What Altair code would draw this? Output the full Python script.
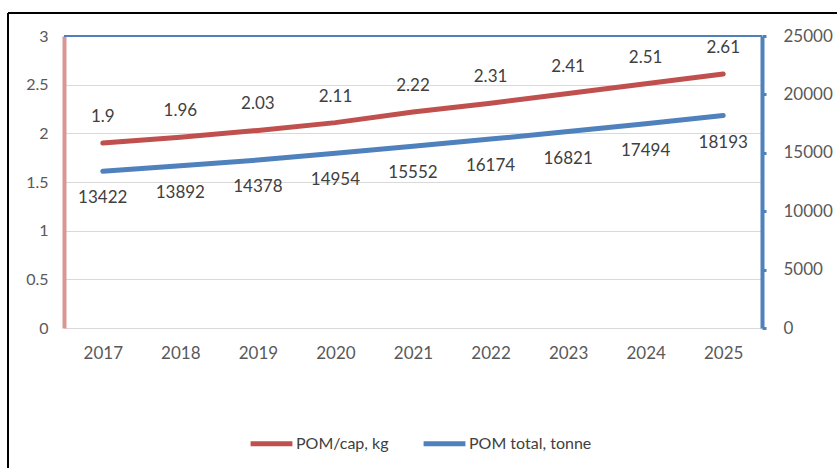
import altair as alt
import pandas as pd

years = ["2017", "2018", "2019", "2020", "2021", "2022", "2023", "2024", "2025"]
pom_per_cap = [1.9, 1.96, 2.03, 2.11, 2.22, 2.31, 2.41, 2.51, 2.61]
pom_total = [13422, 13892, 14378, 14954, 15552, 16174, 16821, 17494, 18193]

series_names = ["POM/cap, kg", "POM total, tonne"]
series_colors = ["#c0504d", "#4f81bd"]

df = pd.DataFrame({"year": years, "cap": pom_per_cap, "total": pom_total})

FONT = "Lato"
FS = 17
W, H = 698, 292

x_enc = alt.X(
    "year:N",
    sort=years,
    scale=alt.Scale(type="point", padding=0.5),
    axis=alt.Axis(
        title=None, domain=False, ticks=False, grid=False, labelAngle=0,
        labelFont=FONT, labelFontSize=FS, labelColor="#595959", labelPadding=17,
    ),
)

color_enc = alt.Color(
    "series:N",
    scale=alt.Scale(domain=series_names, range=series_colors),
    legend=alt.Legend(
        title=None, orient="none", direction="horizontal",
        legendX=184, legendY=384,
        symbolType="stroke", symbolSize=1750, symbolStrokeWidth=5,
        labelFont=FONT, labelFontSize=FS - 1, labelColor="#404040",
        labelOffset=1, columnPadding=24,
    ),
)

base = alt.Chart(df)

cap_y = alt.Y(
    "cap:Q",
    scale=alt.Scale(domain=[0, 3]),
    axis=alt.Axis(
        title=None, values=[0, 0.5, 1, 1.5, 2, 2.5, 3], format="~g",
        domainColor="#d99694", domainWidth=4, ticks=False,
        grid=True, gridColor="#d9d9d9", gridWidth=1.2,
        labelFont=FONT, labelFontSize=FS - 1, labelColor="#595959", labelPadding=16,
    ),
)

total_y = alt.Y(
    "total:Q",
    scale=alt.Scale(domain=[0, 25000]),
    axis=alt.Axis(
        title=None, orient="right", values=[0, 5000, 10000, 15000, 20000, 25000],
        format="d", domainColor="#4f81bd", domainWidth=4,
        ticks=True, tickColor="#4f81bd", tickSize=4, tickWidth=3,
        grid=False,
        labelFont=FONT, labelFontSize=FS, labelColor="#595959", labelPadding=17,
    ),
)

# top border of the plot area
top_rule = base.mark_rule(color="#4f81bd", strokeWidth=1.5).encode(
    x=alt.value(0), x2=alt.value(W), y=alt.value(0)
)

cap_line = base.transform_calculate(series="'POM/cap, kg'").mark_line(
    strokeWidth=5, strokeCap="round"
).encode(x=x_enc, y=cap_y, color=color_enc)

cap_text = base.mark_text(
    dy=-26, font=FONT, fontSize=FS, color="#404040"
).encode(x=x_enc, y=cap_y, text=alt.Text("cap:Q", format="~g"))

left_layer = alt.layer(cap_line, cap_text, top_rule)

total_line = base.transform_calculate(series="'POM total, tonne'").mark_line(
    strokeWidth=5, strokeCap="round"
).encode(x=x_enc, y=total_y, color=color_enc)

total_text = base.mark_text(
    dy=27, font=FONT, fontSize=FS, color="#404040"
).encode(x=x_enc, y=total_y, text=alt.Text("total:Q", format="d"))

right_layer = alt.layer(total_line, total_text)

# outer frame around the whole figure
frame_top = base.mark_rule(color="#000000", strokeWidth=2).encode(
    x=alt.value(-56), x2=alt.value(W + 90), y=alt.value(-23)
)
frame_left = base.mark_rule(color="#000000", strokeWidth=2).encode(
    x=alt.value(-56), y=alt.value(-23), y2=alt.value(H + 150)
)

chart = alt.layer(left_layer, right_layer, frame_top, frame_left).resolve_scale(
    y="independent"
).properties(
    width=W, height=H,
    padding={"left": 64, "top": 36, "right": 75, "bottom": 140},
    autosize=alt.AutoSizeParams(type="none"),
    background="white",
).configure_view(stroke=None)

chart.save("out.html", embed_options={"renderer": "svg", "actions": False})
